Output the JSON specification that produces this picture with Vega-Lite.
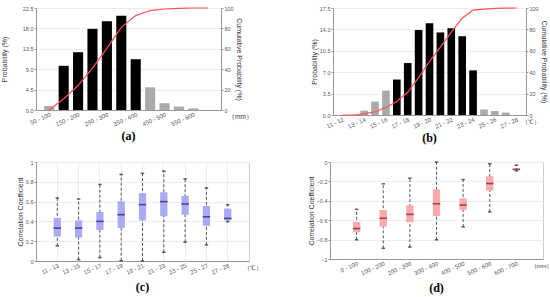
{
  "$schema": "https://vega.github.io/schema/vega-lite/v6.json",
  "padding": {"left": 0, "top": 5, "right": 0, "bottom": 0},
  "spacing": 14,
  "config": {
    "font": "Liberation Sans",
    "view": {"stroke": null},
    "axis": {"labelFontSize": 5.5, "titleFontSize": 7, "titleFontWeight": "normal", "labelColor": "#555", "titleColor": "#333", "domainColor": "#999", "tickColor": "#999", "tickSize": 2, "gridColor": "#ececec", "labelPadding": 1, "titlePadding": 2, "labelOverlap": false},
    "title": {"font": "Liberation Serif", "fontSize": 12, "fontWeight": "bold", "color": "#000", "orient": "bottom", "anchor": "middle", "frame": "group", "offset": 4}
  },
  "vconcat": [
    {
      "spacing": 57,
      "hconcat": [
        {
          "width": 185, "height": 102,
          "title": {"text": "(a)"},
          "data": {"values": [
            {"bin": "50 - 100", "prob": 0.9, "grp": "tail", "cum": 0},
            {"bin": "100 - 150", "prob": 9.75, "grp": "main", "cum": 11},
            {"bin": "150 - 200", "prob": 12.75, "grp": "main", "cum": 24},
            {"bin": "200 - 250", "prob": 17.9, "grp": "main", "cum": 41},
            {"bin": "250 - 300", "prob": 19.6, "grp": "main", "cum": 60.5},
            {"bin": "300 - 350", "prob": 20.8, "grp": "main", "cum": 81},
            {"bin": "350 - 400", "prob": 11.2, "grp": "main", "cum": 92.5},
            {"bin": "400 - 450", "prob": 5.0, "grp": "tail", "cum": 97.5},
            {"bin": "450 - 500", "prob": 1.5, "grp": "tail", "cum": 99},
            {"bin": "500 - 550", "prob": 0.75, "grp": "tail", "cum": 99.6},
            {"bin": "550 - 600", "prob": 0.35, "grp": "tail", "cum": 100},
            {"bin": "600 - 650", "prob": null, "grp": "tail", "cum": 100}
          ]},
          "encoding": {
            "x": {"field": "bin", "type": "ordinal", "sort": null,
                  "scale": {"domain": ["50 - 100", "100 - 150", "150 - 200", "200 - 250", "250 - 300", "300 - 350", "350 - 400", "400 - 450", "450 - 500", "500 - 550", "550 - 600", "600 - 650"], "paddingInner": 0.3, "paddingOuter": 0.57},
                  "axis": {"values": ["50 - 100", "150 - 200", "250 - 300", "350 - 400", "450 - 500", "550 - 600"], "labelAngle": -24, "labelFontSize": 6, "ticks": false,
                           "title": "（mm）", "titleAngle": 0, "titleX": 204, "titleY": 6, "titleAlign": "center", "titleBaseline": "middle", "titleFontSize": 6.5}}
          },
          "layer": [
            {"mark": {"type": "bar"},
             "encoding": {
               "y": {"field": "prob", "type": "quantitative", "scale": {"domain": [0, 22.5]},
                     "axis": {"values": [0, 4.5, 9, 13.5, 18, 22.5], "format": ".1f", "title": "Probability (%)", "grid": true, "titlePadding": 15}},
               "color": {"field": "grp", "type": "nominal", "scale": {"domain": ["main", "tail"], "range": ["#000000", "#aaaaaa"]}, "legend": null}
             }},
            {"mark": {"type": "line", "color": "#ff5050", "strokeWidth": 1.2},
             "encoding": {
               "y": {"field": "cum", "type": "quantitative", "scale": {"domain": [0, 100]},
                     "axis": {"orient": "right", "values": [0, 20, 40, 60, 80, 100], "title": "Cumulative Probability (%)", "grid": false}}
             }}
          ],
          "resolve": {"scale": {"y": "independent"}}
        },
        {
          "width": 193, "height": 107,
          "title": {"text": "(b)"},
          "data": {"values": [
            {"bin": "11 - 12", "prob": null, "grp": "tail", "cum": 0},
            {"bin": "12 - 13", "prob": null, "grp": "tail", "cum": 0},
            {"bin": "13 - 14", "prob": 0.7, "grp": "tail", "cum": 1},
            {"bin": "14 - 15", "prob": 2.2, "grp": "tail", "cum": 3},
            {"bin": "15 - 16", "prob": 4.0, "grp": "tail", "cum": 7},
            {"bin": "16 - 17", "prob": 5.8, "grp": "main", "cum": 12.7},
            {"bin": "17 - 18", "prob": 8.5, "grp": "main", "cum": 21.2},
            {"bin": "18 - 19", "prob": 13.9, "grp": "main", "cum": 35},
            {"bin": "19 - 20", "prob": 15.0, "grp": "main", "cum": 50},
            {"bin": "20 - 21", "prob": 13.5, "grp": "main", "cum": 63.5},
            {"bin": "21 - 22", "prob": 14.2, "grp": "main", "cum": 77.5},
            {"bin": "22 - 23", "prob": 12.9, "grp": "main", "cum": 90.5},
            {"bin": "23 - 24", "prob": 7.3, "grp": "main", "cum": 98},
            {"bin": "24 - 25", "prob": 0.9, "grp": "tail", "cum": 99},
            {"bin": "25 - 26", "prob": 0.65, "grp": "tail", "cum": 99.6},
            {"bin": "26 - 27", "prob": 0.4, "grp": "tail", "cum": 99.9},
            {"bin": "27 - 28", "prob": null, "grp": "tail", "cum": 100}
          ]},
          "encoding": {
            "x": {"field": "bin", "type": "ordinal", "sort": null,
                  "scale": {"domain": ["11 - 12", "12 - 13", "13 - 14", "14 - 15", "15 - 16", "16 - 17", "17 - 18", "18 - 19", "19 - 20", "20 - 21", "21 - 22", "22 - 23", "23 - 24", "24 - 25", "25 - 26", "26 - 27", "27 - 28"], "paddingInner": 0.3, "paddingOuter": 0.51},
                  "axis": {"values": ["11 - 12", "13 - 14", "15 - 16", "17 - 18", "19 - 20", "21 - 22", "23 - 24", "25 - 26", "27 - 28"], "labelAngle": -24, "labelFontSize": 6, "ticks": false,
                           "title": "（℃）", "titleAngle": 0, "titleX": 197, "titleY": 6, "titleAlign": "center", "titleBaseline": "middle", "titleFontSize": 6}}
          },
          "layer": [
            {"mark": {"type": "bar"},
             "encoding": {
               "y": {"field": "prob", "type": "quantitative", "scale": {"domain": [0, 17.5]},
                     "axis": {"values": [0, 3.5, 7, 10.5, 14, 17.5], "format": ".1f", "title": "Probability (%)", "grid": true}},
               "color": {"field": "grp", "type": "nominal", "scale": {"domain": ["main", "tail"], "range": ["#000000", "#aaaaaa"]}, "legend": null}
             }},
            {"mark": {"type": "line", "color": "#ff5050", "strokeWidth": 1.2},
             "encoding": {
               "y": {"field": "cum", "type": "quantitative", "scale": {"domain": [0, 100]},
                     "axis": {"orient": "right", "values": [0, 20, 40, 60, 80, 100], "title": "Cumulative Probability (%)", "grid": false}}
             }}
          ],
          "resolve": {"scale": {"y": "independent"}}
        }
      ]
    },
    {
      "spacing": 44,
      "hconcat": [
        {
          "width": 213, "height": 99,
          "title": {"text": "(c)", "offset": 7},
          "view": {"stroke": "#cccccc"},
          "data": {"values": [
            {"cat": "11 - 13", "lo": 0.153, "q1": 0.247, "med": 0.332, "q3": 0.434, "hi": 0.637},
            {"cat": "13 - 15", "lo": 0.014, "q1": 0.237, "med": 0.332, "q3": 0.41, "hi": 0.627},
            {"cat": "15 - 17", "lo": 0.034, "q1": 0.312, "med": 0.4, "q3": 0.495, "hi": 0.773},
            {"cat": "17 - 19", "lo": 0.003, "q1": 0.332, "med": 0.468, "q3": 0.603, "hi": 0.875},
            {"cat": "19 - 21", "lo": 0.0, "q1": 0.41, "med": 0.569, "q3": 0.685, "hi": 0.885},
            {"cat": "21 - 23", "lo": 0.088, "q1": 0.451, "med": 0.6, "q3": 0.695, "hi": 0.908},
            {"cat": "23 - 25", "lo": 0.19, "q1": 0.468, "med": 0.576, "q3": 0.658, "hi": 0.83},
            {"cat": "25 - 27", "lo": 0.163, "q1": 0.356, "med": 0.447, "q3": 0.556, "hi": 0.739},
            {"cat": "27 - 28", "lo": 0.397, "q1": 0.41, "med": 0.43, "q3": 0.529, "hi": 0.569}
          ]},
          "encoding": {
            "x": {"field": "cat", "type": "ordinal", "sort": null,
                  "scale": {"paddingInner": 0.66, "paddingOuter": 0.83},
                  "axis": {"labelAngle": -24, "labelFontSize": 6, "grid": true, "bandPosition": 0.5, "ticks": false,
                           "title": "（℃）", "titleAngle": 0, "titleX": 216, "titleY": 6, "titleAlign": "center", "titleBaseline": "middle", "titleFontSize": 6}}
          },
          "layer": [
            {"mark": {"type": "rule", "color": "#555555", "strokeDash": [3, 2], "strokeWidth": 1},
             "encoding": {
               "y": {"field": "lo", "type": "quantitative", "scale": {"domain": [0, 1]},
                     "axis": {"values": [0, 0.2, 0.4, 0.6, 0.8, 1], "labelExpr": "datum.value == 0 || datum.value == 1 ? format(datum.value, 'd') : format(datum.value, '.1f')", "labelOverlap": false, "title": "Correlation Coefficient", "grid": true}},
               "y2": {"field": "hi"}
             }},
            {"mark": {"type": "bar", "color": "#a9abf5"},
             "encoding": {"y": {"field": "q1", "type": "quantitative", "axis": {"values": [0, 0.2, 0.4, 0.6, 0.8, 1], "labelExpr": "datum.value == 0 || datum.value == 1 ? format(datum.value, 'd') : format(datum.value, '.1f')", "labelOverlap": false, "title": "Correlation Coefficient", "grid": true}}, "y2": {"field": "q3"}}},
            {"mark": {"type": "tick", "color": "#1c1c5c", "size": 7.5, "thickness": 1.6},
             "encoding": {"y": {"field": "med", "type": "quantitative", "axis": {"values": [0, 0.2, 0.4, 0.6, 0.8, 1], "labelExpr": "datum.value == 0 || datum.value == 1 ? format(datum.value, 'd') : format(datum.value, '.1f')", "labelOverlap": false, "title": "Correlation Coefficient", "grid": true}}}},
            {"mark": {"type": "tick", "color": "#222222", "size": 3.5, "thickness": 1.5},
             "encoding": {"y": {"field": "lo", "type": "quantitative", "axis": {"values": [0, 0.2, 0.4, 0.6, 0.8, 1], "labelExpr": "datum.value == 0 || datum.value == 1 ? format(datum.value, 'd') : format(datum.value, '.1f')", "labelOverlap": false, "title": "Correlation Coefficient", "grid": true}}}},
            {"mark": {"type": "tick", "color": "#222222", "size": 3.5, "thickness": 1.5},
             "encoding": {"y": {"field": "hi", "type": "quantitative", "axis": {"values": [0, 0.2, 0.4, 0.6, 0.8, 1], "labelExpr": "datum.value == 0 || datum.value == 1 ? format(datum.value, 'd') : format(datum.value, '.1f')", "labelOverlap": false, "title": "Correlation Coefficient", "grid": true}}}}
          ]
        },
        {
          "width": 213, "height": 97,
          "title": {"text": "(d)", "offset": 7},
          "view": {"stroke": "#cccccc"},
          "data": {"values": [
            {"cat": "0 - 100", "lo": -0.802, "q1": -0.724, "med": -0.686, "q3": -0.618, "hi": -0.488},
            {"cat": "100 - 200", "lo": -0.89, "q1": -0.666, "med": -0.58, "q3": -0.495, "hi": -0.225},
            {"cat": "200 - 300", "lo": -0.877, "q1": -0.621, "med": -0.54, "q3": -0.447, "hi": -0.167},
            {"cat": "300 - 400", "lo": -0.802, "q1": -0.556, "med": -0.43, "q3": -0.283, "hi": 0.0},
            {"cat": "400 - 500", "lo": -0.669, "q1": -0.495, "med": -0.444, "q3": -0.375, "hi": -0.181},
            {"cat": "500 - 600", "lo": -0.515, "q1": -0.294, "med": -0.222, "q3": -0.147, "hi": -0.017},
            {"cat": "600 - 700", "lo": -0.092, "q1": -0.085, "med": -0.075, "q3": -0.068, "hi": -0.031}
          ]},
          "encoding": {
            "x": {"field": "cat", "type": "ordinal", "sort": null,
                  "scale": {"paddingInner": 0.725, "paddingOuter": 0.8625},
                  "axis": {"labelAngle": -24, "labelFontSize": 6, "grid": false, "ticks": false,
                           "title": "（mm）", "titleAngle": 0, "titleX": 211, "titleY": 6, "titleAlign": "center", "titleBaseline": "middle", "titleFontSize": 6}}
          },
          "layer": [
            {"mark": {"type": "rule", "color": "#555555", "strokeDash": [3, 2], "strokeWidth": 1},
             "encoding": {
               "y": {"field": "lo", "type": "quantitative", "scale": {"domain": [-1, 0]},
                     "axis": {"values": [-1, -0.8, -0.6, -0.4, -0.2, 0], "labelExpr": "datum.value == 0 || datum.value == -1 ? format(datum.value, 'd') : format(datum.value, '.1f')", "labelOverlap": false, "title": "Correlation Coefficient", "grid": true}},
               "y2": {"field": "hi"}
             }},
            {"mark": {"type": "bar", "color": "#f9aaaa"},
             "encoding": {"y": {"field": "q1", "type": "quantitative", "axis": {"values": [-1, -0.8, -0.6, -0.4, -0.2, 0], "labelExpr": "datum.value == 0 || datum.value == -1 ? format(datum.value, 'd') : format(datum.value, '.1f')", "labelOverlap": false, "title": "Correlation Coefficient", "grid": true}}, "y2": {"field": "q3"}}},
            {"mark": {"type": "tick", "color": "#6a1c1c", "size": 7.5, "thickness": 1.6},
             "encoding": {"y": {"field": "med", "type": "quantitative", "axis": {"values": [-1, -0.8, -0.6, -0.4, -0.2, 0], "labelExpr": "datum.value == 0 || datum.value == -1 ? format(datum.value, 'd') : format(datum.value, '.1f')", "labelOverlap": false, "title": "Correlation Coefficient", "grid": true}}}},
            {"mark": {"type": "tick", "color": "#222222", "size": 3.5, "thickness": 1.5},
             "encoding": {"y": {"field": "lo", "type": "quantitative", "axis": {"values": [-1, -0.8, -0.6, -0.4, -0.2, 0], "labelExpr": "datum.value == 0 || datum.value == -1 ? format(datum.value, 'd') : format(datum.value, '.1f')", "labelOverlap": false, "title": "Correlation Coefficient", "grid": true}}}},
            {"mark": {"type": "tick", "color": "#222222", "size": 3.5, "thickness": 1.5},
             "encoding": {"y": {"field": "hi", "type": "quantitative", "axis": {"values": [-1, -0.8, -0.6, -0.4, -0.2, 0], "labelExpr": "datum.value == 0 || datum.value == -1 ? format(datum.value, 'd') : format(datum.value, '.1f')", "labelOverlap": false, "title": "Correlation Coefficient", "grid": true}}}}
          ]
        }
      ]
    }
  ]
}
